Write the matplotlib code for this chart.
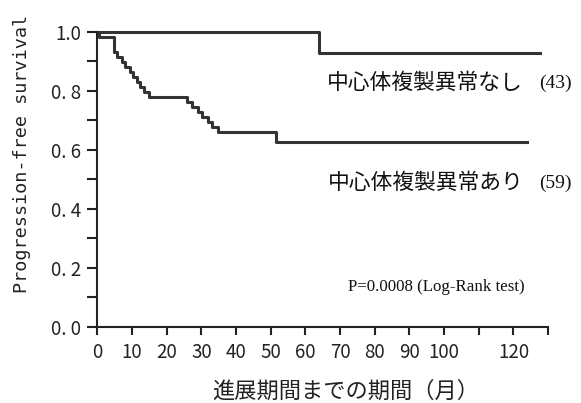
import matplotlib.pyplot as plt

# survival curves (months, survival)
t_normal = [0, 64.0, 127.6]
s_normal = [1.0, 0.930, 0.930]

t_abnormal = [0, 0.5, 4.7, 5.6, 7.1, 8.1, 9.3, 10.3, 11.5, 12.4, 13.6, 14.8,
              15.8, 26.0, 27.4, 28.9, 30.3, 31.8, 33.2, 34.7, 36.2, 51.4, 123.8]
s_abnormal = [1.0, 0.983, 0.932, 0.915, 0.898, 0.881, 0.864, 0.847, 0.831, 0.814,
              0.797, 0.780, 0.780, 0.763, 0.746, 0.729, 0.712, 0.695, 0.678,
              0.661, 0.661, 0.627, 0.627]

x_ticks = list(range(0, 131, 10))
x_labels = ["0", "10", "20", "30", "40", "50", "60", "70", "80", "90", "100", "", "120", ""]
y_ticks = [0.0, 0.2, 0.4, 0.6, 0.8, 1.0]
y_labels = ["0. 0", "0. 2", "0. 4", "0. 6", "0. 8", "1.0"]

jp = ["Noto Sans CJK JP", "DejaVu Sans"]
col = "#333333"

fig = plt.figure(figsize=(5.81, 4.03), dpi=100)
ax = fig.add_axes([0.1675, 0.1886, 0.776, 0.732])

ax.step(t_normal, s_normal, where="post", color=col, lw=2.2, clip_on=False)
ax.step(t_abnormal, s_abnormal, where="post", color=col, lw=2.2, clip_on=False)

ax.set_xlim(0, 130)
ax.set_ylim(0, 1.0)
for s in ["top", "right"]:
    ax.spines[s].set_visible(False)
for s in ["left", "bottom"]:
    ax.spines[s].set_linewidth(1.5)
    ax.spines[s].set_color("#222222")

ax.set_xticks(x_ticks)
ax.set_xticklabels(x_labels, family=jp, fontsize=13.5, color="#222222")
ax.set_yticks(y_ticks)
ax.set_yticklabels(y_labels, family=jp, fontsize=13.5, color="#222222")
ax.set_yticks([0.1, 0.3, 0.5, 0.7, 0.9], minor=True)
ax.tick_params(axis="y", which="both", direction="out", length=7.5, width=1.5, color="#222222", pad=4)
ax.tick_params(axis="x", direction="out", length=6, width=1.5, color="#222222", pad=5)

# group labels
ax.text(66.2, 0.827, "中心体複製異常なし", family=jp, fontsize=15.7, va="center", ha="left", color="#111111")
ax.text(127.3, 0.827, "(43)", family="Liberation Serif", fontsize=14, va="center", ha="left", color="#111111")
ax.text(66.5, 0.488, "中心体複製異常あり", family=jp, fontsize=15.7, va="center", ha="left", color="#111111")
ax.text(127.3, 0.488, "(59)", family="Liberation Serif", fontsize=14, va="center", ha="left", color="#111111")
ax.text(72.3, 0.136, "P=0.0008 (Log-Rank test)", family="Liberation Serif", fontsize=12.2,
        va="center", ha="left", color="#111111")

fig.text(22 / 581, 0.618, "Progression-free survival", family="DejaVu Sans Mono", fontsize=13.3,
         rotation=90, ha="center", va="center", color="#222222")
fig.text(0.595, 0.03, "進展期間までの期間（月）", family=jp, fontsize=16, ha="center", va="center",
         color="#222222")

fig.savefig("out.png", dpi=100)
